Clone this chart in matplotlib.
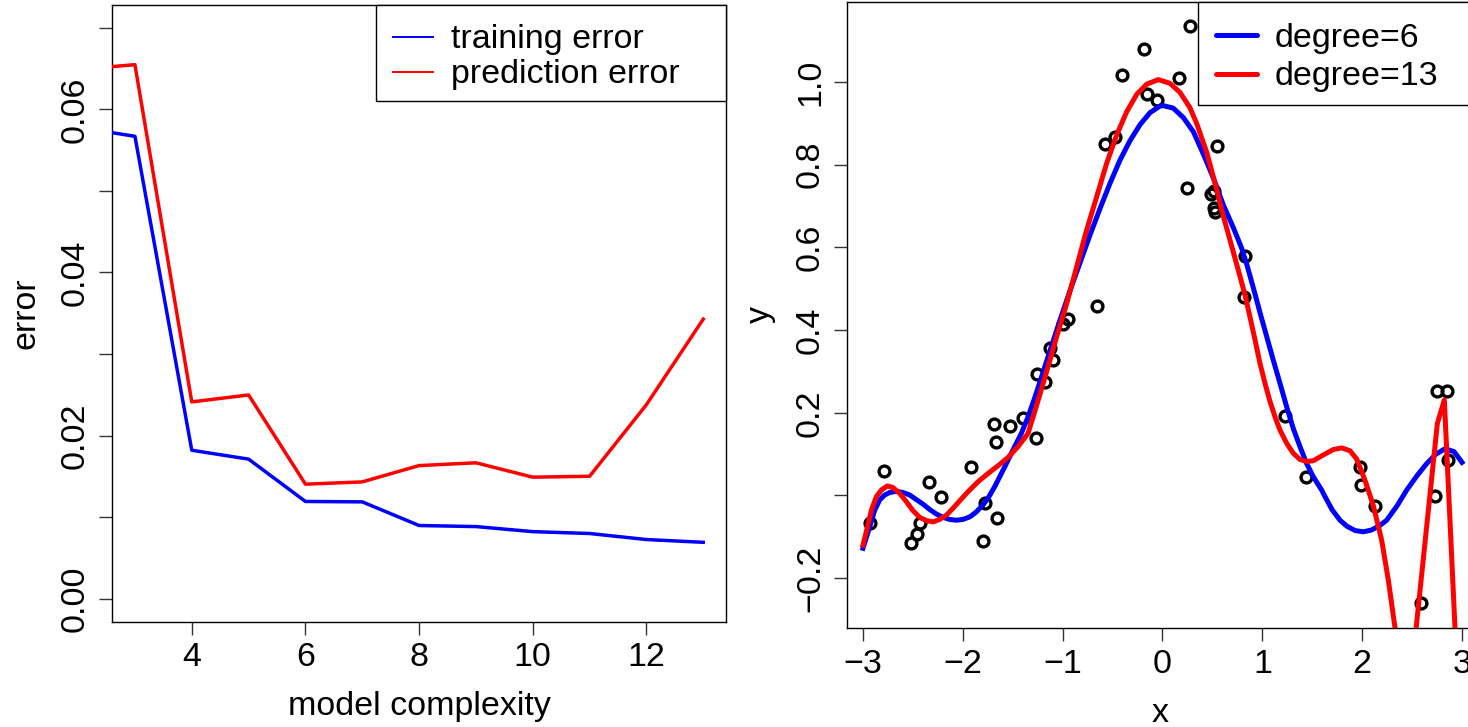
import matplotlib
matplotlib.use("Agg")
import matplotlib.pyplot as plt
from matplotlib.ticker import FixedLocator, FixedFormatter
from matplotlib.patches import Rectangle
from matplotlib.lines import Line2D

plt.rcParams['font.family'] = ['Liberation Sans', 'DejaVu Sans']
plt.rcParams['axes.unicode_minus'] = True

# ---------------- data: left panel ----------------
complexity = [2, 3, 4, 5, 6, 7, 8, 9, 10, 11, 12, 13]
training_error = [0.0578, 0.0567, 0.0182, 0.01711, 0.01192, 0.01187,
                  0.00897, 0.00884, 0.00822, 0.00799, 0.00725, 0.00691]
prediction_error = [0.0649, 0.06548, 0.02413, 0.02498, 0.01404, 0.01432,
                    0.01632, 0.01666, 0.01490, 0.01501, 0.02379, 0.03428]
left_xticks = [4, 6, 8, 10, 12]
left_yticks = [0.00, 0.01, 0.02, 0.03, 0.04, 0.05, 0.06, 0.07]
left_yticklabels = ["0.00", "", "0.02", "", "0.04", "", "0.06", ""]

# ---------------- data: right panel ----------------
pts_x = [-2.933, -2.793, -2.516, -2.459, -2.432, -2.339, -2.216, -1.915, -1.781,
         -1.798, -1.658, -1.691, -1.665, -1.531, -1.397, -1.264, -1.260, -1.177,
         -1.127, -1.094, -0.994, -0.944, -0.659, -0.576, -0.476, -0.406, -0.185,
         -0.158, -0.058, 0.165, 0.275, 0.249, 0.49, 0.52, 0.52, 0.53, 0.549,
         0.826, 0.820, 1.227, 1.437, 1.978, 1.988, 2.129, 2.589, 2.730, 2.753,
         2.853, 2.863]
pts_y = [-0.066, 0.0595, -0.114, -0.094, -0.066, 0.033, -0.003, 0.068, -0.018,
         -0.111, -0.054, 0.174, 0.130, 0.168, 0.188, 0.139, 0.293, 0.275,
         0.356, 0.327, 0.414, 0.426, 0.458, 0.850, 0.868, 1.017, 1.080,
         0.972, 0.956, 1.011, 1.136, 0.743, 0.730, 0.737, 0.695, 0.685, 0.846,
         0.579, 0.481, 0.192, 0.044, 0.068, 0.025, -0.025, -0.261, -0.001, 0.252,
         0.252, 0.085]

# degree-6 fit, values
fit6_x = [-3.000, -2.933, -2.883, -2.833, -2.783, -2.733, -2.666, -2.599, -2.532,
          -2.466, -2.399, -2.332, -2.265, -2.199, -2.132, -2.065, -1.998, -1.931,
          -1.865, -1.798, -1.748, -1.681, -1.614, -1.548, -1.481, -1.414, -1.347,
          -1.280, -1.227, -1.127, -1.027, -0.927, -0.826, -0.726, -0.626, -0.526,
          -0.426, -0.326, -0.225, -0.125, -0.025, 0.008, 0.108, 0.209, 0.309,
          0.409, 0.509, 0.609, 0.709, 0.793, 0.843, 0.910, 0.977, 1.044, 1.110,
          1.177, 1.244, 1.310, 1.377, 1.444, 1.511, 1.594, 1.628, 1.700, 1.778,
          1.850, 1.930, 2.010, 2.090, 2.170, 2.245, 2.350, 2.446, 2.550, 2.646,
          2.740, 2.830, 2.920, 3.000]
fit6_y = [-0.128, -0.076, -0.036, -0.011, 0.001, 0.007, 0.010, 0.007, 0.001,
          -0.010, -0.021, -0.034, -0.045, -0.053, -0.058, -0.060, -0.058, -0.052,
          -0.040, -0.023, -0.007, 0.021, 0.053, 0.085, 0.118, 0.150, 0.190,
          0.236, 0.275, 0.350, 0.424, 0.495, 0.563, 0.630, 0.694, 0.755,
          0.811, 0.858, 0.897, 0.926, 0.942, 0.943, 0.937, 0.914, 0.880,
          0.826, 0.768, 0.703, 0.648, 0.598, 0.560, 0.502, 0.442, 0.384, 0.327,
          0.271, 0.214, 0.162, 0.118, 0.077, 0.045, 0.013, -0.003, -0.035, -0.060,
          -0.075, -0.085, -0.088, -0.084, -0.074, -0.060, -0.025, 0.013, 0.048,
          0.077, 0.100, 0.113, 0.106, 0.080]

# degree-13 fit, values
fit13_x = [-3.000, -2.967, -2.916, -2.866, -2.816, -2.756, -2.699, -2.632, -2.566,
           -2.499, -2.432, -2.365, -2.298, -2.232, -2.165, -2.098, -2.031, -1.948,
           -1.848, -1.748, -1.647, -1.547, -1.447, -1.347, -1.264, -1.160, -1.060,
           -0.960, -0.860, -0.760, -0.660, -0.560, -0.459, -0.359, -0.259, -0.158,
           -0.042, 0.075, 0.175, 0.275, 0.342, 0.443, 0.543, 0.593, 0.693, 0.776,
           0.826, 0.876, 0.927, 0.977, 1.027, 1.077, 1.127, 1.177, 1.244, 1.310,
           1.377, 1.444, 1.511, 1.611, 1.711, 1.795, 1.878, 1.945, 2.028, 2.112,
           2.195, 2.262, 2.330, 2.400, 2.470, 2.540, 2.753, 2.823, 2.930, 3.000]
fit13_y = [-0.120, -0.088, -0.036, -0.003, 0.013, 0.023, 0.019, 0.005, -0.015,
           -0.037, -0.053, -0.061, -0.064, -0.058, -0.048, -0.031, -0.013, 0.009,
           0.033, 0.053, 0.072, 0.092, 0.118, 0.150, 0.215, 0.300, 0.384,
           0.464, 0.553, 0.642, 0.722, 0.803, 0.872, 0.928, 0.970, 0.995,
           1.006, 0.997, 0.975, 0.938, 0.900, 0.830, 0.740, 0.690, 0.603, 0.530,
           0.485, 0.432, 0.376, 0.319, 0.271, 0.227, 0.190, 0.158, 0.126, 0.102,
           0.087, 0.082, 0.084, 0.098, 0.111, 0.115, 0.108, 0.088, 0.037, -0.025,
           -0.108, -0.205, -0.322, -0.460, -0.490, -0.322, 0.174, 0.231, -0.322,
           -0.684]
right_xticks = [-3, -2, -1, 0, 1, 2, 3]
right_xticklabels = ["\u22123", "\u22122", "\u22121", "0", "1", "2", "3"]
right_yticks = [-0.2, 0.0, 0.2, 0.4, 0.6, 0.8, 1.0]
right_yticklabels = ["\u22120.2", "", "0.2", "0.4", "0.6", "0.8", "1.0"]

# ---------------- layout helpers ----------------
W, H = 1468, 727
fig = plt.figure(figsize=(W / 100, H / 100), dpi=100)


def fx(px):
    return px / W


def fy(py):
    return 1 - py / H


FS = 24.5
TICKLEN = 9.4


def style_axes(ax):
    for s in ax.spines.values():
        s.set_linewidth(1.0)
        s.set_color('black')
    ax.tick_params(axis='both', direction='out', length=TICKLEN, width=1.0,
                   color='#333333', labelsize=FS)
    ax.tick_params(axis='x', pad=5.6)
    ax.tick_params(axis='y', pad=5.9, labelrotation=90)


# ---------------- left panel ----------------
L0, L1, T0, B0 = 112.2, 726.0, 5.0, 621.5
axL = fig.add_axes([fx(L0), fy(B0), fx(L1) - fx(L0), fy(T0) - fy(B0)])
axL.plot(complexity, training_error, color='blue', lw=2.5, solid_joinstyle='round', zorder=3)
axL.plot(complexity, prediction_error, color='red', lw=2.5, solid_joinstyle='round', zorder=3)
axL.set_xlim(2.6, 13.4)
axL.set_ylim(-0.0028, 0.0728)
axL.xaxis.set_major_locator(FixedLocator(left_xticks))
axL.xaxis.set_major_formatter(FixedFormatter([str(t) for t in left_xticks]))
axL.yaxis.set_major_locator(FixedLocator(left_yticks))
axL.yaxis.set_major_formatter(FixedFormatter(left_yticklabels))
style_axes(axL)
plt.setp(axL.get_yticklabels(), va='center')

# left legend
fig.add_artist(Rectangle((fx(376), fy(100.7)), fx(726) - fx(376), fy(5.0) - fy(100.7),
                         transform=fig.transFigure, facecolor='white',
                         edgecolor='black', lw=1.0, zorder=5))
fig.add_artist(Line2D([fx(393.3), fx(432.7)], [fy(36.7), fy(36.7)],
                      transform=fig.transFigure, color='blue', lw=1.4, zorder=6))
fig.add_artist(Line2D([fx(393.3), fx(432.7)], [fy(71.7), fy(71.7)],
                      transform=fig.transFigure, color='red', lw=1.4, zorder=6))
fig.text(fx(450.7), fy(48.3), 'training error', fontsize=FS, ha='left',
         va='baseline', zorder=6)
fig.text(fx(450.7), fy(83.0), 'prediction error', fontsize=FS, ha='left',
         va='baseline', zorder=6)

fig.text(fx((L0 + L1) / 2), fy(715.5), 'model complexity', fontsize=FS,
         ha='center', va='baseline')
fig.text(fx(35), fy((T0 + B0) / 2), 'error', fontsize=FS, rotation=90,
         rotation_mode='anchor', ha='center', va='baseline')

# ---------------- right panel ----------------
R0, R1, RT, RB = 847.2, 1472.0, 2.3, 627.7
axR = fig.add_axes([fx(R0), fy(RB), fx(R1) - fx(R0), fy(RT) - fy(RB)])
axR.plot(pts_x, pts_y, linestyle='none', marker='o', markersize=7.8,
         markerfacecolor='none', markeredgecolor='black', markeredgewidth=2.4,
         zorder=2)
axR.plot(fit6_x, fit6_y, color='blue', lw=3.6, solid_joinstyle='round', zorder=3)
axR.plot(fit13_x, fit13_y, color='red', lw=3.6, solid_joinstyle='round', zorder=4)
axR.set_xlim(-3.158, 3.10)
axR.set_ylim(-0.320, 1.193)
axR.xaxis.set_major_locator(FixedLocator(right_xticks))
axR.xaxis.set_major_formatter(FixedFormatter(right_xticklabels))
axR.yaxis.set_major_locator(FixedLocator(right_yticks))
axR.yaxis.set_major_formatter(FixedFormatter(right_yticklabels))
style_axes(axR)
plt.setp(axR.get_yticklabels(), va='center')

# right legend
fig.add_artist(Rectangle((fx(1198.3), fy(105.0)), fx(1472) - fx(1198.3), fy(RT) - fy(105.0),
                         transform=fig.transFigure, facecolor='white',
                         edgecolor='black', lw=1.0, zorder=5))
fig.add_artist(Line2D([fx(1216), fx(1256.7)], [fy(35), fy(35)],
                      transform=fig.transFigure, color='blue', lw=3.6,
                      solid_capstyle='round', zorder=6))
fig.add_artist(Line2D([fx(1216), fx(1256.7)], [fy(74), fy(74)],
                      transform=fig.transFigure, color='red', lw=3.6,
                      solid_capstyle='round', zorder=6))
fig.text(fx(1275), fy(46.7), 'degree=6', fontsize=FS, ha='left', va='baseline', zorder=6)
fig.text(fx(1275), fy(85.0), 'degree=13', fontsize=FS, ha='left', va='baseline', zorder=6)

fig.text(fx(1160), fy(721.5), 'x', fontsize=FS, ha='center', va='baseline')
fig.text(fx(769), fy((RT + RB) / 2), 'y', fontsize=FS, rotation=90,
         rotation_mode='anchor', ha='center', va='baseline')

fig.savefig('out.png', dpi=100, facecolor='white')
